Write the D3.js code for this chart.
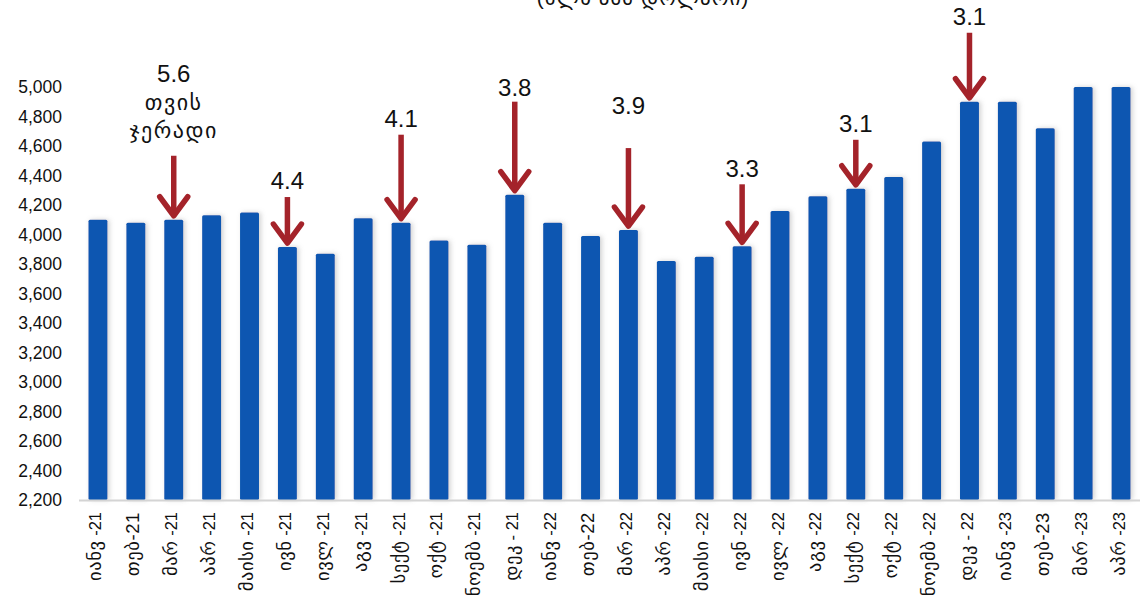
<!DOCTYPE html>
<html><head><meta charset="utf-8">
<script src="https://cdn.jsdelivr.net/npm/d3@7/dist/d3.min.js"></script>
<style>
html,body{margin:0;padding:0;background:#fff;}
svg{display:block;font-family:"Liberation Sans",Arial,"DejaVu Sans",sans-serif;}
</style></head>
<body><svg id="chart" width="1148" height="603"></svg>
<script>
const categories = ["იანვ -21","თებ-21","მარ -21","აპრ -21","მაისი -21","ივნ -21","ივლ -21","აგვ -21","სექტ -21","ოქტ -21","ნოემბ -21","დეკ - 21",
"იანვ -22","თებ-22","მარ -22","აპრ -22","მაისი -22","ივნ -22","ივლ -22","აგვ -22","სექტ -22","ოქტ -22","ნოემბ -22","დეკ - 22",
"იანვ -23","თებ-23","მარ -23","აპრ -23"];
const values = [4100,4080,4100,4130,4150,3915,3870,4110,4080,3960,3930,4270,
4080,3990,4030,3820,3850,3920,4160,4260,4310,4390,4630,4900,
4900,4720,5000,5000];
const yTicks = [2200,2400,2600,2800,3000,3200,3400,3600,3800,4000,4200,4400,4600,4800,5000];
const annotCats = ["მარ -21","ივნ -21","სექტ -21","დეკ - 21","მარ -22","ივნ -22","სექტ -22","დეკ - 22"];
const annotTexts = [["5.6","თვის","ჯერადი"],["4.4"],["4.1"],["3.8"],["3.9"],["3.3"],["3.1"],["3.1"]];
const title = "(მლნ აშშ დოლარი)";

// layout (not data)
const arrowLen = [63,49,87,92,81,61,48,68];
const labelGap = [18,8,8,6,34,7,8,8];

const svg = d3.select("#chart");
const x = d3.scaleBand().domain(categories).range([79,1140]).paddingInner(0.5).paddingOuter(0.25);
const y = d3.scaleLinear().domain([2200,5000]).range([500,87]);

const defs = svg.append("defs");
const f = defs.append("filter").attr("id","sh").attr("x","-50%").attr("y","-10%").attr("width","200%").attr("height","120%");
f.append("feDropShadow").attr("dx",2).attr("dy",0).attr("stdDeviation",2.5).attr("flood-color","#9a9a9a").attr("flood-opacity",0.45);

svg.append("text").attr("x",643).attr("y",5).attr("text-anchor","middle")
  .attr("font-size",21).attr("letter-spacing",1).attr("fill","#111").text(title);

// y axis
const yAxis = d3.axisLeft(y).tickValues(yTicks).tickFormat(d3.format(",")).tickSize(0).tickPadding(0);
const gy = svg.append("g").attr("transform","translate(62,0)").call(yAxis);
gy.select(".domain").remove();
gy.selectAll("text").attr("font-size",17.5).attr("fill","#111").attr("font-family","Liberation Sans, Arial, sans-serif");

// bars
svg.append("g").selectAll("rect").data(values).join("rect")
  .attr("x",(d,i)=>x(categories[i]))
  .attr("y",d=>y(d))
  .attr("width",x.bandwidth())
  .attr("height",d=>y(2200)-y(d))
  .attr("rx",1.5)
  .attr("fill","#0757b1")
  .attr("filter","url(#sh)");

// x axis line
svg.append("line").attr("x1",79).attr("x2",1140).attr("y1",500.5).attr("y2",500.5)
  .attr("stroke","#d4d4d4").attr("stroke-width",2);

// x axis labels
const xAxis = d3.axisBottom(x).tickSize(0).tickPadding(0);
const gx = svg.append("g").attr("transform","translate(0,512)").call(xAxis);
gx.select(".domain").remove();
gx.selectAll("text").attr("transform","rotate(-90)").attr("text-anchor","end")
  .attr("x",0).attr("y",0).attr("dy","0.35em").attr("fill","#111")
  .attr("font-family","Liberation Sans, DejaVu Sans, sans-serif")
  .each(function(d){
    const t = d3.select(this);
    const m = d.match(/^(\S+)(.*)$/);
    t.text(null);
    t.append("tspan").attr("font-size",18.5).attr("letter-spacing",0.6).text(m[1]);
    t.append("tspan").attr("font-size",16.5).text(m[2]);
  });

// annotations
const red = "#a4232a";
const ag = svg.append("g");
annotCats.forEach((c,i)=>{
  const cx = x(c) + x.bandwidth()/2;
  const vi = categories.indexOf(c);
  const tipY = y(values[vi]) - 1;
  const startY = tipY - arrowLen[i];
  const g = ag.append("g");
  g.append("line").attr("x1",cx).attr("x2",cx).attr("y1",startY).attr("y2",tipY-3)
    .attr("stroke",red).attr("stroke-width",5.5);
  g.append("path").attr("d",`M${cx-14},${tipY-22}L${cx},${tipY-3}L${cx+14},${tipY-22}`)
    .attr("fill","none").attr("stroke",red).attr("stroke-width",5.5)
    .attr("stroke-linecap","round").attr("stroke-linejoin","round");
  const lines = annotTexts[i];
  const base = startY - labelGap[i];
  const lh = 28;
  lines.forEach((t,j)=>{
    g.append("text").attr("x",cx).attr("y",base - (lines.length-1-j)*lh)
      .attr("text-anchor","middle").attr("font-size",j===0?24:22)
      .attr("letter-spacing",j===0?0:1.5).attr("fill","#111").text(t);
  });
});
</script></body></html>
